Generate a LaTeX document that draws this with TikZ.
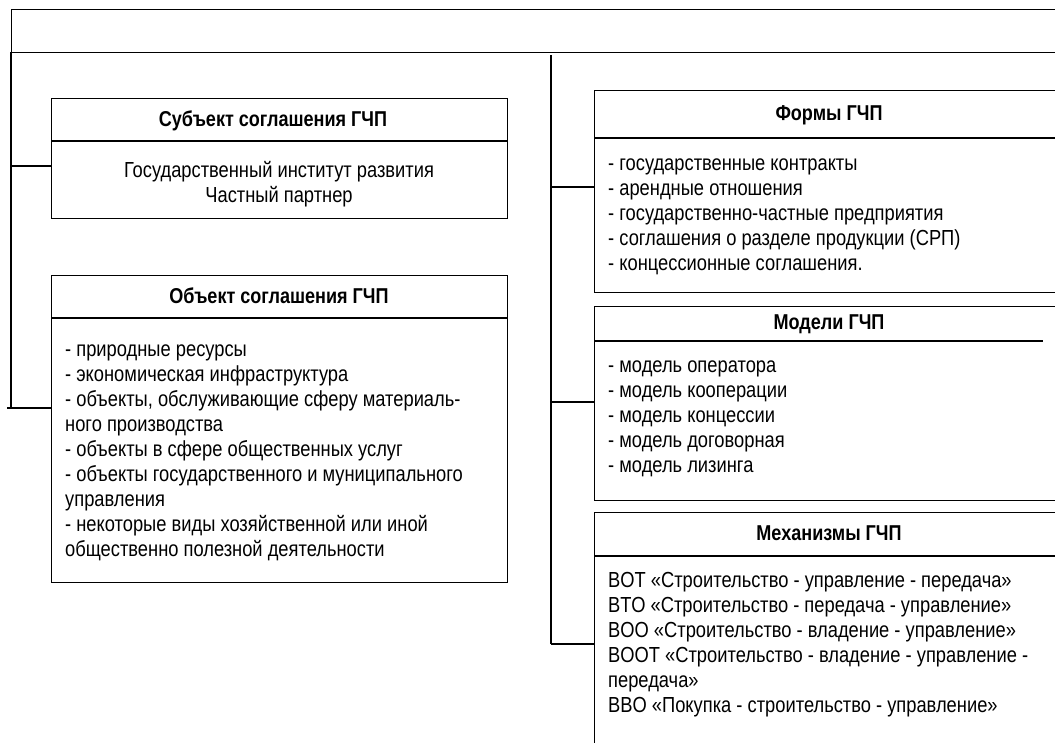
\documentclass[tikz,border=0pt]{standalone}
\usepackage{fontspec}
\setmainfont[FakeStretch=0.84]{Liberation Sans}
\begin{document}
\begin{tikzpicture}[x=1pt,y=-1pt,
  frame/.style={draw, line width=1.2pt, rectangle, inner sep=0pt, anchor=north west},
  divider/.style={line width=2pt},
  link/.style={line width=1.7pt},
  title/.style={font=\fontsize{21.5}{25}\selectfont\bfseries, inner sep=0pt, anchor=base},
  body/.style={font=\fontsize{21.8}{25}\selectfont, inner sep=0pt, align=left, anchor=base west},
  cbody/.style={font=\fontsize{21.8}{25}\selectfont, inner sep=0pt, align=center, anchor=base},
]
\useasboundingbox (0,0) rectangle (1055,742);
\clip (0,0) rectangle (1055,742);

% header bar
\node[frame, minimum width=1060pt, minimum height=43pt] (head) at (11,9) {};

% left column (body nodes are placed by the baseline of their last line)
\node[frame, minimum width=456pt, minimum height=120pt] (subj) at (51,98) {};
\draw[divider] (51,141) -- (507,141);
\node[title] (subjT) at (273,126) {Субъект соглашения ГЧП};
\node[cbody] (subjB) at (279,202) {Государственный институт развития\\Частный партнер};

\node[frame, minimum width=456pt, minimum height=307pt] (obj) at (51,275) {};
\draw[divider] (51,318) -- (507,318);
\node[title] (objT) at (279,303) {Объект соглашения ГЧП};
\node[body] (objB) at (65,556) {- природные ресурсы\\
- экономическая инфраструктура\\
- объекты, обслуживающие сферу материаль-\\
ного производства\\
- объекты в сфере общественных услуг\\
- объекты государственного и муниципального\\
управления\\
- некоторые виды хозяйственной или иной\\
общественно полезной деятельности};

% right column
\node[frame, minimum width=470pt, minimum height=202pt] (form) at (594,90) {};
\draw[divider] (594,138) -- (1064,138);
\node[title] (formT) at (829,120) {Формы ГЧП};
\node[body] (formB) at (608,270) {- государственные контракты\\
- арендные отношения\\
- государственно-частные предприятия\\
- соглашения о разделе продукции (СРП)\\
- концессионные соглашения.};

\node[frame, minimum width=470pt, minimum height=194pt] (model) at (594,306) {};
\draw[divider] (594,341) -- (1043,341);
\node[title] (modelT) at (829,329) {Модели ГЧП};
\node[body] (modelB) at (608,472) {- модель оператора\\
- модель кооперации\\
- модель концессии\\
- модель договорная\\
- модель лизинга};

\node[frame, minimum width=470pt, minimum height=250pt] (mech) at (594,512) {};
\draw[divider] (594,556) -- (1064,556);
\node[title] (mechT) at (829,540) {Механизмы ГЧП};
\node[body] (mechB) at (608,712) {BOT «Строительство - управление - передача»\\
BTO «Строительство - передача - управление»\\
BOO «Строительство - владение - управление»\\
BOOT «Строительство - владение - управление -\\
передача»\\
BBO «Покупка - строительство - управление»};

% connectors
\coordinate (lTop) at (11,52);
\coordinate (l1) at (11,166);
\coordinate (l2) at (11,408);
\coordinate (l2s) at (7,408);
\coordinate (cTop) at (551,55);
\coordinate (c1) at (551,187);
\coordinate (c2) at (551,402);
\coordinate (c3) at (551,644);
\draw[link] (lTop) -- (l2);
\draw[link] (l1) -- (l1 -| subj.west);
\draw[link] (l2s) -- (l2s -| obj.west);
\draw[link] (cTop) -- (c3);
\draw[link] (c1) -- (c1 -| form.west);
\draw[link] (c2) -- (c2 -| model.west);
\draw[link] (c3) -- (c3 -| mech.west);
\end{tikzpicture}
\end{document}
